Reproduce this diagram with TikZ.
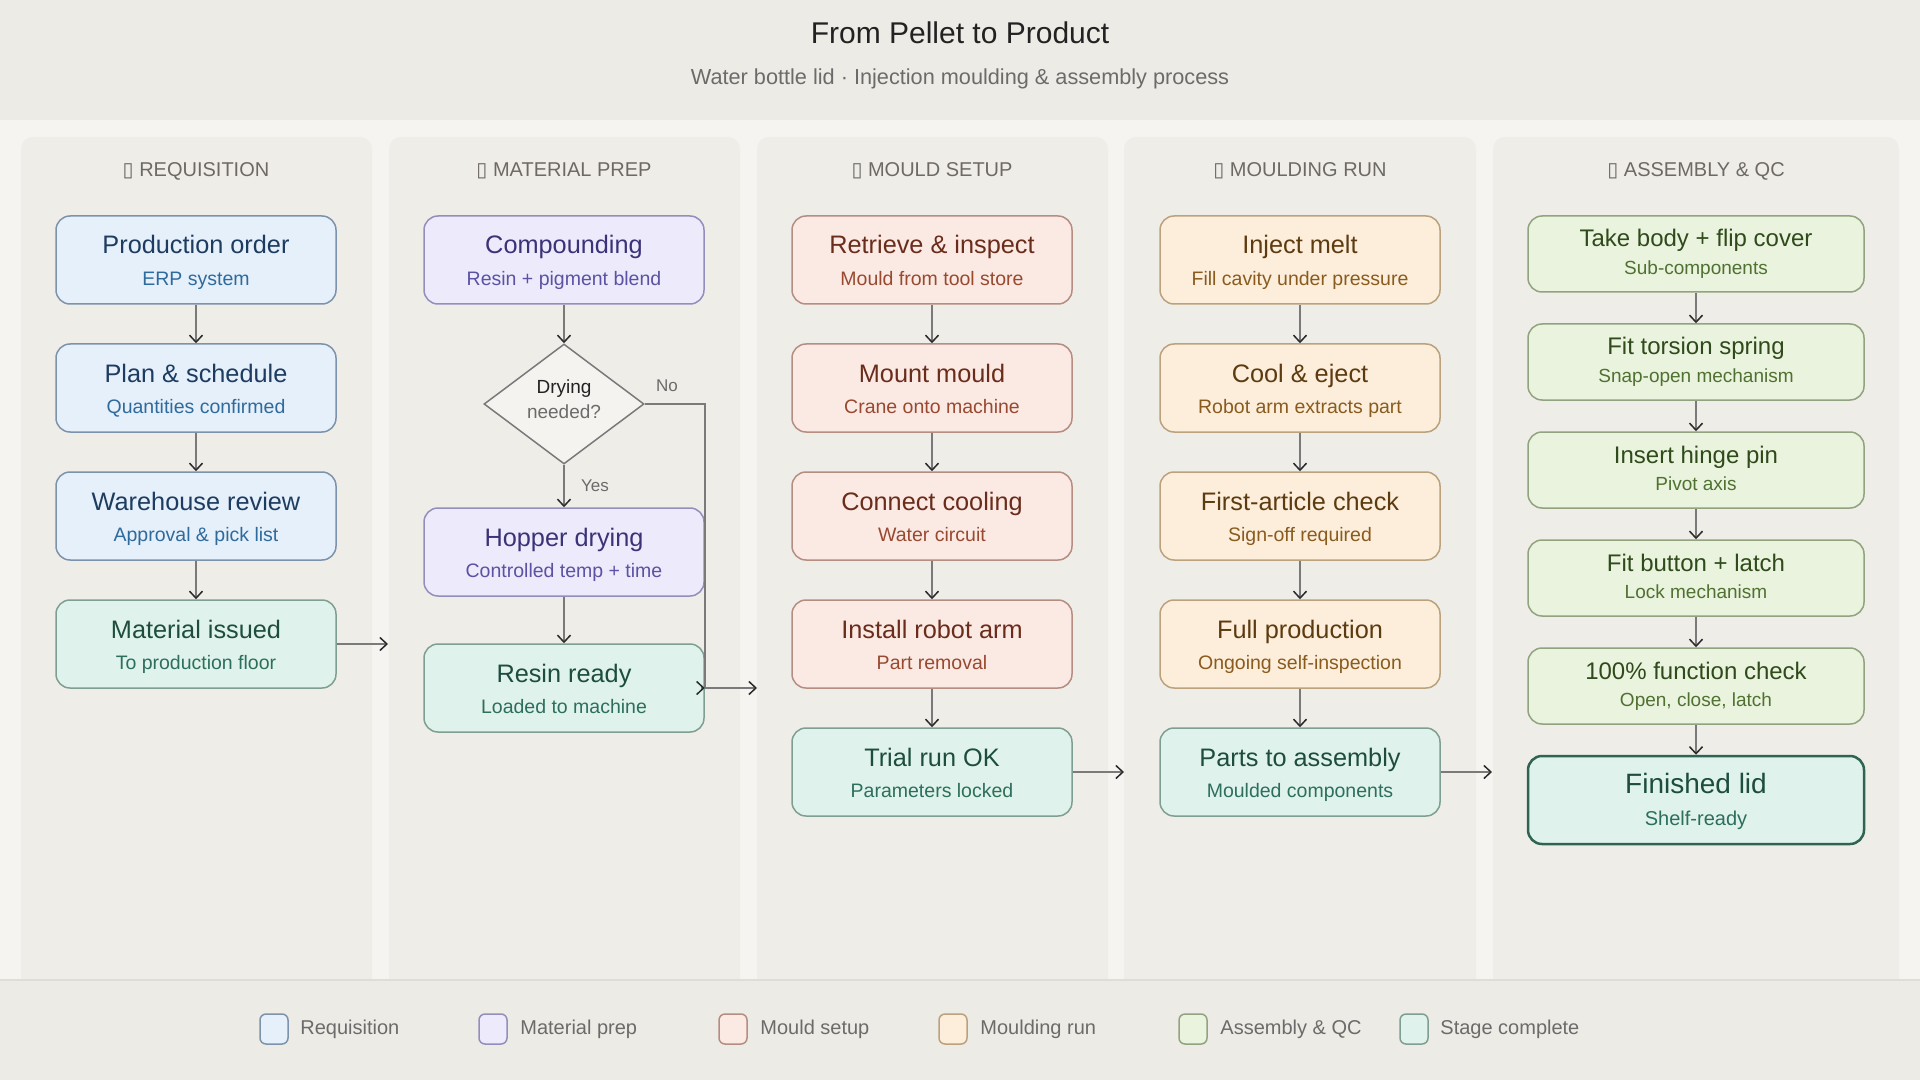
\documentclass[tikz,border=0pt]{standalone}
\usepackage{fontspec}
\setmainfont{Liberation Sans}
\newfontfamily\dejavu{DejaVu Sans}
\usetikzlibrary{arrows.meta,shapes.geometric}

\definecolor{hdrbg}{HTML}{EDEBE5}
\definecolor{bodybg}{HTML}{F5F4F0}
\definecolor{colbg}{HTML}{EFEDE8}
\definecolor{ftline}{HTML}{E0DDD6}
\definecolor{ttlc}{HTML}{222222}
\definecolor{subc}{HTML}{6B6B6B}
\definecolor{colh}{HTML}{6E6A63}
\definecolor{lnc}{HTML}{7A7A7A}
\definecolor{tipc}{HTML}{2A2A2A}
\definecolor{diaF}{HTML}{F4F3EF}
\definecolor{diaD}{HTML}{7A7A7A}

\definecolor{reqF}{HTML}{E5F0FB}\definecolor{reqD}{HTML}{7D93AB}\definecolor{reqT}{HTML}{1D3C60}\definecolor{reqS}{HTML}{2F6A9C}
\definecolor{matF}{HTML}{ECEAFB}\definecolor{matD}{HTML}{948EBD}\definecolor{matT}{HTML}{3B3378}\definecolor{matS}{HTML}{5B52A3}
\definecolor{mldF}{HTML}{FBEAE4}\definecolor{mldD}{HTML}{B58D81}\definecolor{mldT}{HTML}{6A2C1B}\definecolor{mldS}{HTML}{98492F}
\definecolor{runF}{HTML}{FCEEDB}\definecolor{runD}{HTML}{BBA27D}\definecolor{runT}{HTML}{5D3B10}\definecolor{runS}{HTML}{8A5B1E}
\definecolor{asmF}{HTML}{EAF3DD}\definecolor{asmD}{HTML}{92A37F}\definecolor{asmT}{HTML}{2F4A1B}\definecolor{asmS}{HTML}{4F7131}
\definecolor{cmpF}{HTML}{DFF3EC}\definecolor{cmpD}{HTML}{7E9F92}\definecolor{cmpT}{HTML}{1E4D40}\definecolor{cmpS}{HTML}{2D6E5D}
\definecolor{finD}{HTML}{2F6352}

\tikzset{
  box/.style={draw, rounded corners=7pt, line width=0.75pt, minimum width=140pt, minimum height=44pt, inner sep=0pt},
  boxB/.style={box, minimum width=168pt, minimum height=38pt},
  txt/.style={inner sep=0pt, text height=0.75em, text depth=0.2em, anchor=center},
  colpanel/.style={fill=colbg, rounded corners=6pt},
  colhead/.style={txt, text=colh, font=\fontsize{10}{12}\selectfont},
  flow/.style={draw=lnc, line width=0.75pt, -{Straight Barb[length=3.5pt,width=6.5pt,color=tipc,line width=0.75pt]}},
  plain/.style={draw=lnc, line width=0.75pt},
  lsw/.style={draw, rounded corners=3pt, line width=0.75pt, minimum width=14pt, minimum height=15pt, inner sep=0pt},
  ltxt/.style={txt, anchor=west, text=subc, font=\fontsize{10}{12}\selectfont},
  edgelbl/.style={txt, text=subc, font=\fontsize{8.5}{10}\selectfont},
}

\newcommand\pboxA[6]{%
  \node[box, fill=#4F, draw=#4D] (#1) at (#2,#3) {};
  \node[txt, text=#4T, font=\fontsize{12.65}{15}\selectfont] at ([yshift=5.75pt]#1.center) {#5};
  \node[txt, text=#4S, font=\fontsize{9.75}{12}\selectfont] at ([yshift=-10pt]#1.center) {#6};
}
\newcommand\pboxB[6]{%
  \node[boxB, fill=#4F, draw=#4D] (#1) at (#2,#3) {};
  \node[txt, text=#4T, font=\fontsize{12}{14}\selectfont] at ([yshift=6.25pt]#1.center) {#5};
  \node[txt, text=#4S, font=\fontsize{9.5}{12}\selectfont] at ([yshift=-7.5pt]#1.center) {#6};
}

\begin{document}
\begin{tikzpicture}[x=0.5pt, y=-0.5pt]
\useasboundingbox (0,0) rectangle (1920,1080);

% backgrounds
\fill[bodybg] (0,0) rectangle (1920,1080);
\fill[hdrbg] (0,0) rectangle (1920,120);

\fill[colpanel] (21,137) rectangle (372,1000);
\fill[colpanel] (389,137) rectangle (740,1000);
\fill[colpanel] (757,137) rectangle (1108,1000);
\fill[colpanel] (1124,137) rectangle (1476,1000);
\fill[colpanel] (1493,137) rectangle (1899,1000);

\fill[hdrbg] (0,980) rectangle (1920,1080);
\draw[ftline, line width=0.75pt] (0,980) -- (1920,980);

% title
\node[txt, text=ttlc, font=\fontsize{15}{18}\selectfont] (title) at (960,38) {From Pellet to Product};
\node[txt, text=subc, font=\fontsize{10.85}{13}\selectfont] (subtitle) at (960,79) {Water bottle lid · Injection moulding \& assembly process};

% column headers
\node[colhead] (h1) at (196,171) {{\dejavu ▯} REQUISITION};
\node[colhead] (h2) at (564,171) {{\dejavu ▯} MATERIAL PREP};
\node[colhead] (h3) at (932,171) {{\dejavu ▯} MOULD SETUP};
\node[colhead] (h4) at (1300,171) {{\dejavu ▯} MOULDING RUN};
\node[colhead] (h5) at (1696,171) {{\dejavu ▯} ASSEMBLY \& QC};

% column 1
\pboxA{a1}{196}{260}{req}{Production order}{ERP system}
\pboxA{a2}{196}{388}{req}{Plan \& schedule}{Quantities confirmed}
\pboxA{a3}{196}{516}{req}{Warehouse review}{Approval \& pick list}
\pboxA{a4}{196}{644}{cmp}{Material issued}{To production floor}

% column 2
\pboxA{b1}{564}{260}{mat}{Compounding}{Resin + pigment blend}
\node[diamond, draw=diaD, fill=diaF, line width=0.75pt, minimum width=80pt, minimum height=60pt, inner sep=0pt] (dia) at (564,404) {};
\node[txt, text=ttlc, font=\fontsize{9.5}{11}\selectfont] at ([yshift=8pt]dia.center) {Drying};
\node[txt, text=subc, font=\fontsize{9.5}{11}\selectfont] at ([yshift=-4.5pt]dia.center) {needed?};
\pboxA{b2}{564}{552}{mat}{Hopper drying}{Controlled temp + time}
\pboxA{b3}{564}{688}{cmp}{Resin ready}{Loaded to machine}

% column 3
\pboxA{c1}{932}{260}{mld}{Retrieve \& inspect}{Mould from tool store}
\pboxA{c2}{932}{388}{mld}{Mount mould}{Crane onto machine}
\pboxA{c3}{932}{516}{mld}{Connect cooling}{Water circuit}
\pboxA{c4}{932}{644}{mld}{Install robot arm}{Part removal}
\pboxA{c5}{932}{772}{cmp}{Trial run OK}{Parameters locked}

% column 4
\pboxA{d1}{1300}{260}{run}{Inject melt}{Fill cavity under pressure}
\pboxA{d2}{1300}{388}{run}{Cool \& eject}{Robot arm extracts part}
\pboxA{d3}{1300}{516}{run}{First-article check}{Sign-off required}
\pboxA{d4}{1300}{644}{run}{Full production}{Ongoing self-inspection}
\pboxA{d5}{1300}{772}{cmp}{Parts to assembly}{Moulded components}

% column 5
\pboxB{e1}{1696}{254}{asm}{Take body + flip cover}{Sub-components}
\pboxB{e2}{1696}{362}{asm}{Fit torsion spring}{Snap-open mechanism}
\pboxB{e3}{1696}{470}{asm}{Insert hinge pin}{Pivot axis}
\pboxB{e4}{1696}{578}{asm}{Fit button + latch}{Lock mechanism}
\pboxB{e5}{1696}{686}{asm}{100\% function check}{Open, close, latch}
\node[box, minimum width=168pt, minimum height=44pt, fill=cmpF, draw=finD, line width=1.25pt] (e6) at (1696,800) {};
\node[txt, text=cmpT, font=\fontsize{14}{16}\selectfont] at ([yshift=6.25pt]e6.center) {Finished lid};
\node[txt, text=cmpS, font=\fontsize{10}{12}\selectfont] at ([yshift=-10pt]e6.center) {Shelf-ready};

% connectors within columns
\draw[flow] (a1) -- (a2);
\draw[flow] (a2) -- (a3);
\draw[flow] (a3) -- (a4);
\draw[flow] (b1) -- (dia);
\draw[flow] (dia) -- (b2);
\draw[flow] (b2) -- (b3);
\draw[plain] (dia.east) -| (b3.east);
\draw[flow] ([xshift=-2pt]b3.east) -- (b3.east);
\draw[flow] (c1) -- (c2);
\draw[flow] (c2) -- (c3);
\draw[flow] (c3) -- (c4);
\draw[flow] (c4) -- (c5);
\draw[flow] (d1) -- (d2);
\draw[flow] (d2) -- (d3);
\draw[flow] (d3) -- (d4);
\draw[flow] (d4) -- (d5);
\draw[flow] (e1) -- (e2);
\draw[flow] (e2) -- (e3);
\draw[flow] (e3) -- (e4);
\draw[flow] (e4) -- (e5);
\draw[flow] (e5) -- (e6);

\node[edgelbl] (nolbl) at (667,386) {No};
\node[edgelbl] (yeslbl) at (595,486) {Yes};

% connectors between columns
\coordinate (x1) at (388,644);
\coordinate (x2) at (757,688);
\coordinate (x3) at (1124,772);
\coordinate (x4) at (1492,772);
\draw[flow] (a4.east) -- (x1);
\draw[flow] (b3.east) -- (x2);
\draw[flow] (c5.east) -- (x3);
\draw[flow] (d5.east) -- (x4);

% legend
\node[lsw, fill=reqF, draw=reqD] (l1) at (274,1029) {};
\node[ltxt] (lt1) at (300,1029) {Requisition};
\node[lsw, fill=matF, draw=matD] (l2) at (493,1029) {};
\node[ltxt] (lt2) at (520,1029) {Material prep};
\node[lsw, fill=mldF, draw=mldD] (l3) at (733,1029) {};
\node[ltxt] (lt3) at (760,1029) {Mould setup};
\node[lsw, fill=runF, draw=runD] (l4) at (953,1029) {};
\node[ltxt] (lt4) at (980,1029) {Moulding run};
\node[lsw, fill=asmF, draw=asmD] (l5) at (1193,1029) {};
\node[ltxt] (lt5) at (1220,1029) {Assembly \& QC};
\node[lsw, fill=cmpF, draw=cmpD] (l6) at (1414,1029) {};
\node[ltxt] (lt6) at (1440,1029) {Stage complete};
\end{tikzpicture}
\end{document}
